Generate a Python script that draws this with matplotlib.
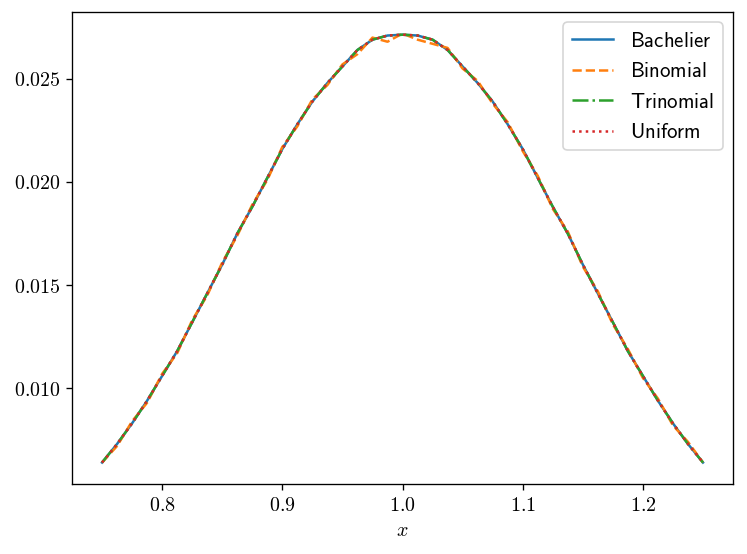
import numpy as np
import matplotlib
matplotlib.use("Agg")
import matplotlib.pyplot as plt
from matplotlib.ticker import FuncFormatter

plt.rcParams["mathtext.fontset"] = "cm"
plt.rcParams["font.size"] = 12

# strike grid and prices
x = np.linspace(0.75, 1.25, 41)

half = [0.0064, 0.0073, 0.0083, 0.0094, 0.0106, 0.0118, 0.0132, 0.0146,
        0.0160, 0.0175, 0.0188, 0.0202, 0.0216, 0.0228, 0.0239, 0.0248,
        0.0256, 0.0264, 0.0269, 0.0271, 0.02714]
bachelier = half + half[-2::-1]
trinomial = list(bachelier)
uniform = list(bachelier)

# binomial wiggles a little around the others
binomial = [0.0064, 0.0072, 0.0084, 0.0093, 0.0107, 0.0117, 0.0133, 0.0145,
            0.0161, 0.0174, 0.0189, 0.0201, 0.0217, 0.0227, 0.0240, 0.0247,
            0.0257, 0.0262, 0.0270, 0.0268, 0.02720, 0.0269, 0.0267, 0.0265,
            0.0255, 0.0249, 0.0238, 0.0229, 0.0215, 0.0203, 0.0187, 0.0176,
            0.0159, 0.0147, 0.0131, 0.0119, 0.0105, 0.0095, 0.0082, 0.0074,
            0.0064]

fig = plt.figure(figsize=(747 / 120, 554 / 120), dpi=120)
ax = fig.add_axes([0.0964, 0.1264, 0.8849, 0.8519])

ax.plot(x, bachelier, "-", color="tab:blue", label=r"$\mathsf{Bachelier}$")
ax.plot(x, binomial, "--", color="tab:orange", label=r"$\mathsf{Binomial}$")
ax.plot(x, trinomial, "-.", color="tab:green", label=r"$\mathsf{Trinomial}$")
ax.plot(x, uniform, ":", color="tab:red", label=r"$\mathsf{Uniform}$")

ax.set_xticks([0.8, 0.9, 1.0, 1.1, 1.2])
ax.set_yticks([0.010, 0.015, 0.020, 0.025])
ax.xaxis.set_major_formatter(FuncFormatter(lambda v, p: f"${v:.1f}$"))
ax.yaxis.set_major_formatter(FuncFormatter(lambda v, p: f"${v:.3f}$"))
ax.set_xlabel(r"$x$")
ax.legend(loc="upper right", fontsize=12.5)

fig.savefig("out.png", dpi=120)
